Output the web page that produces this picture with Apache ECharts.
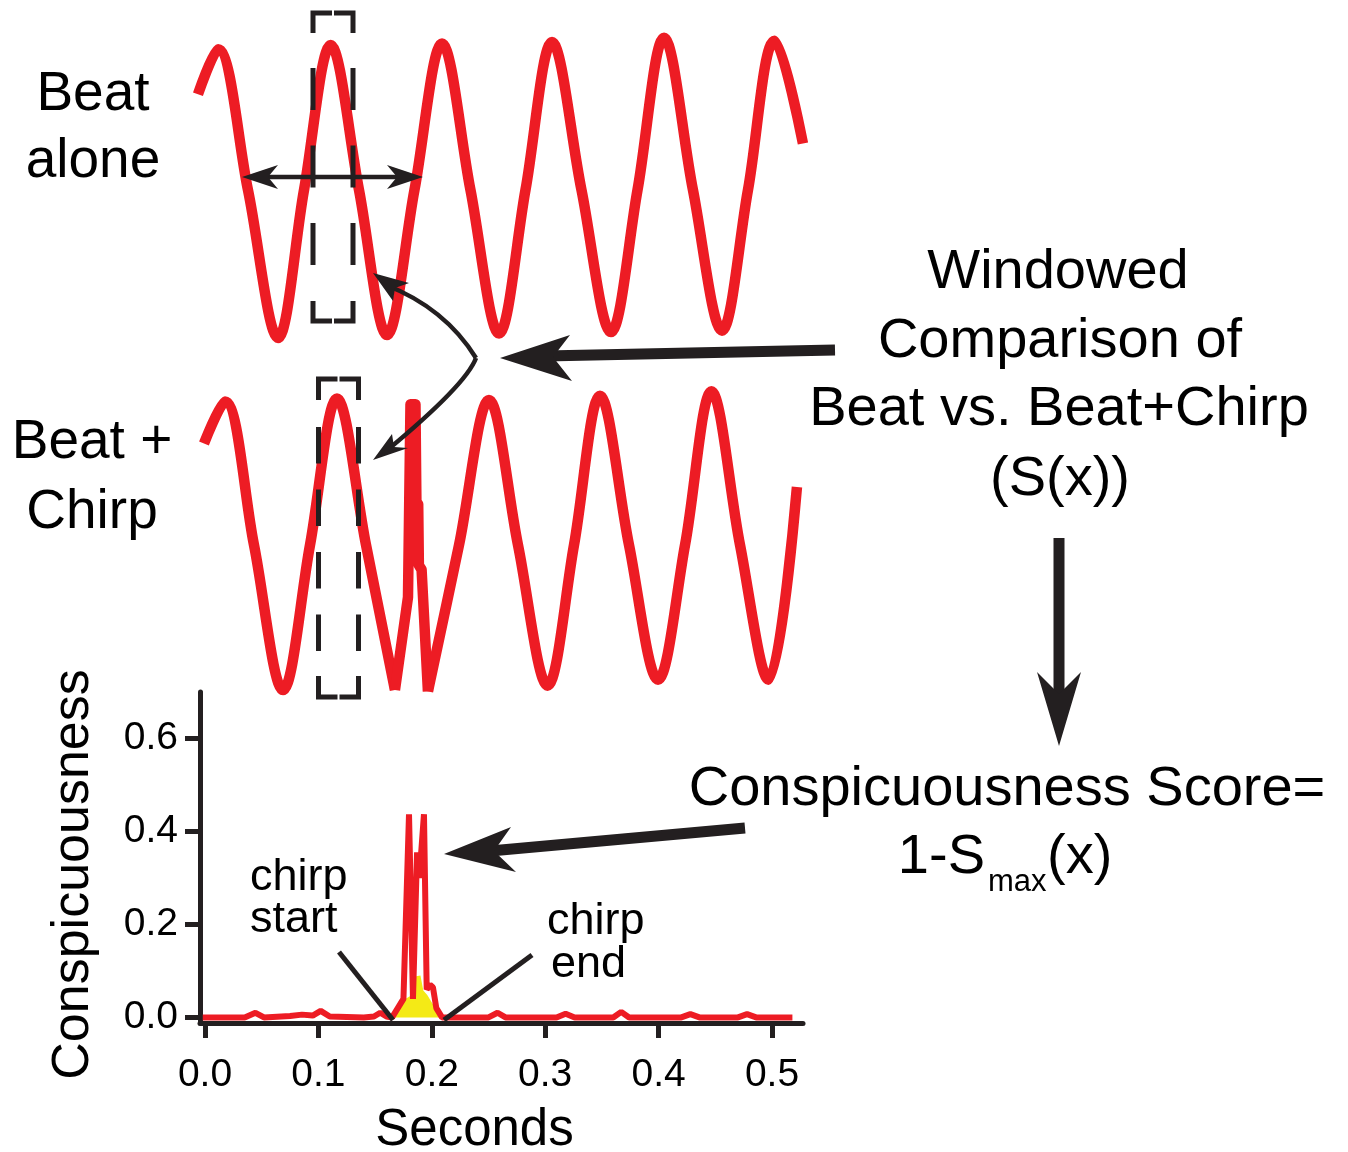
<!DOCTYPE html>
<html>
<head>
<meta charset="utf-8">
<script src="https://cdn.jsdelivr.net/npm/echarts@6/dist/echarts.min.js"></script>
<style>
  html, body { margin: 0; padding: 0; background: #ffffff; }
  #chart { width: 1348px; height: 1152px; }
</style>
</head>
<body>
<div id="chart"></div>
<script>
// ---- Data: time in seconds, waveform amplitude normalised to the beat envelope ----
const beatAlone = [
  [-0.0062, 0.66], [0.0115, 0.97], [0.0379, 0], [0.0644, -1.02], [0.0873, 0],
  [0.1108, 1.00], [0.1358, 0], [0.1605, -1.00], [0.1847, 0], [0.2090, 1.01],
  [0.2341, 0], [0.2593, -0.99], [0.2826, 0], [0.3060, 1.02], [0.3320, 0],
  [0.3580, -0.98], [0.3814, 0], [0.4048, 1.05], [0.4303, 0], [0.4559, -0.97],
  [0.4788, 0], [0.5023, 1.03], [0.5273, 0.32]
];
const beatChirpBefore = [
  [-0.0009, 0.70], [0.0176, 0.99], [0.0432, 0], [0.0688, -1.00], [0.0926, 0],
  [0.1164, 1.01], [0.1420, 0], [0.1675, -1.00]
];
const beatChirpDuring = [
  [0.1675, -1.00], [0.1790, -0.36], [0.1812, 0.97], [0.1856, 0.97],
  [0.1864, 0.30], [0.1880, 0.28], [0.1886, -0.14], [0.1910, -0.17], [0.1966, -1.01]
];
const beatChirpAfter = [
  [0.1966, -1.01], [0.2240, 0], [0.2504, 1.00], [0.2760, 0], [0.3021, -0.97],
  [0.3254, 0], [0.3483, 1.03], [0.3739, 0], [0.3995, -0.93], [0.4233, 0],
  [0.4466, 1.06], [0.4718, 0], [0.4969, -0.93], [0.5220, 0.40]
];
// Conspicuousness score (1 - Smax) over time
const conspicuousness = [
  [-0.002, 0], [0.035, 0], [0.0445, 0.010], [0.052, 0], [0.075, 0.003],
  [0.0855, 0.006], [0.095, 0.004], [0.102, 0.014], [0.110, 0.002], [0.140, 0],
  [0.149, 0.002], [0.1545, 0.010], [0.160, 0.002], [0.165, 0], [0.170, 0.02],
  [0.175, 0.04], [0.1799, 0.437], [0.1834, 0.04], [0.1870, 0.355], [0.1890, 0.30],
  [0.1931, 0.437], [0.1955, 0.06], [0.1985, 0.07], [0.2010, 0.065], [0.2040, 0.02],
  [0.209, 0], [0.250, 0], [0.258, 0.010], [0.265, 0], [0.310, 0], [0.318, 0.008],
  [0.326, 0], [0.360, 0], [0.367, 0.012], [0.374, 0], [0.420, 0], [0.428, 0.007],
  [0.436, 0], [0.470, 0], [0.478, 0.007], [0.486, 0], [0.518, 0]
];
// Lower envelope of the score during the chirp (filled)
const innerScore = [
  [0.164, 0], [0.171, 0.022], [0.177, 0.040], [0.1825, 0.048], [0.1850, 0.088],
  [0.1900, 0.090], [0.1925, 0.058], [0.196, 0.048], [0.200, 0.032], [0.205, 0.014],
  [0.210, 0]
];
const secondsTicks = [0, 0.1, 0.2, 0.3, 0.4, 0.5];
const scoreTicks = [0, 0.2, 0.4, 0.6];

// ---- Styling ----
const RED = '#ed1c24';
const INK = '#231f20';
const YELLOW = '#f4ea16';
const FONT = '"Liberation Sans", Arial, Helvetica, sans-serif';

const chart = echarts.init(document.getElementById('chart'), null, { renderer: 'canvas' });

function label(text, x, y, size, align) {
  return {
    type: 'text', silent: true, z: 20,
    style: {
      text: text, x: x, y: y, fill: '#000',
      font: size + 'px ' + FONT,
      textAlign: align || 'center', textVerticalAlign: 'middle'
    }
  };
}
function seg(points, width, dash) {
  return {
    type: 'polyline', silent: true, z: 15,
    shape: { points: points },
    style: { stroke: INK, lineWidth: width, fill: null, lineDash: dash || null, lineCap: 'butt' }
  };
}
function head(points) {
  return {
    type: 'polygon', silent: true, z: 16,
    shape: { points: points },
    style: { fill: INK, stroke: null }
  };
}
function windowBox(l, r, t, b, bracket, dashStart, dashEnd, dash) {
  const m = (l + r) / 2;
  return [
    seg([[l, t + bracket], [l, t], [m - 1, t]], 5),
    seg([[m + 1, t], [r, t], [r, t + bracket]], 5),
    seg([[l, b - bracket], [l, b], [m - 1, b]], 5),
    seg([[m + 1, b], [r, b], [r, b - bracket]], 5),
    seg([[l, dashStart], [l, dashEnd]], 5, dash),
    seg([[r, dashStart], [r, dashEnd]], 5, dash)
  ];
}

const graphics = [
  // side labels
  label('Beat', 93, 95, 55), label('alone', 93, 162, 55),
  label('Beat +', 92, 443, 55), label('Chirp', 92, 513, 55),
  // right-hand explanation
  label('Windowed', 1058, 273, 56), label('Comparison of', 1060, 342, 56),
  label('Beat vs. Beat+Chirp', 1059, 410, 56), label('(S(x))', 1060, 480, 56),
  label('Conspicuousness Score=', 1007, 790, 56),
  label('1-S', 985, 858, 56, 'right'), label('max', 988, 882, 31, 'left'),
  label('(x)', 1047, 858, 56, 'left'),
  // chirp annotations
  label('chirp', 250, 878, 45, 'left'), label('start', 250, 920, 45, 'left'),
  label('chirp', 547, 922, 45, 'left'), label('end', 551, 965, 45, 'left'),
  seg([[339, 952], [393, 1020]], 5),
  seg([[532, 955], [444, 1020]], 5),
  // period double arrow
  seg([[262, 177], [403, 177]], 4.5),
  head([[242, 177], [278, 165], [268, 177], [278, 189]]),
  head([[423, 177], [387, 165], [397, 177], [387, 189]]),
  // curved double arrow between the two traces
  {
    type: 'bezierCurve', silent: true, z: 15,
    shape: { x1: 386, y1: 285, cpx1: 445, cpy1: 308, x2: 476, y2: 358 },
    style: { stroke: INK, lineWidth: 4.5, fill: null }
  },
  {
    type: 'bezierCurve', silent: true, z: 15,
    shape: { x1: 476, y1: 358, cpx1: 466, cpy1: 385, x2: 385, y2: 452 },
    style: { stroke: INK, lineWidth: 4.5, fill: null }
  },
  head([[373, 273], [393, 301], [395, 288], [409, 283]]),
  head([[373, 460], [392, 434], [394, 447], [408, 448]]),
  // big arrows
  seg([[835, 350], [545, 356]], 11),
  head([[500, 358], [570, 335], [553, 357], [572, 381]]),
  seg([[1059, 538], [1059, 700]], 11),
  head([[1059, 746], [1037, 672], [1059, 694], [1081, 672]]),
  seg([[745, 828], [490, 851]], 11),
  head([[444, 854], [511, 827], [494, 851], [516, 872]])
]
  .concat(windowBox(313, 353, 13, 321, 20, 68, 265, [42, 35.5]))
  .concat(windowBox(318.5, 358.5, 379, 697, 21, 427, 652, [36.5, 26]));

const waveLine = { color: RED, width: 10.5, join: 'round' };

const option = {
  animation: false,
  backgroundColor: '#ffffff',
  grid: [
    { left: 190, right: 535, top: 1.5, height: 377, containLabel: false, outerBoundsMode: 'none' },
    { left: 190, right: 535, top: 356.5, height: 377, containLabel: false, outerBoundsMode: 'none' },
    { left: 200, right: 545, top: 692, height: 331, containLabel: false, outerBoundsMode: 'none' }
  ],
  xAxis: [
    { gridIndex: 0, type: 'value', min: -0.013228, max: 0.536155, show: false },
    { gridIndex: 1, type: 'value', min: -0.013228, max: 0.536155, show: false },
    {
      gridIndex: 2, type: 'value', min: -0.004409, max: 0.527337,
      axisLine: { show: true, onZero: false, lineStyle: { color: INK, width: 5 } },
      axisTick: { show: true, customValues: secondsTicks, length: 15, lineStyle: { color: INK, width: 5 } },
      axisLabel: {
        show: true, customValues: secondsTicks, margin: 33,
        formatter: v => v.toFixed(1), fontSize: 39, color: '#000', fontFamily: FONT
      },
      splitLine: { show: false },
      name: 'Seconds', nameLocation: 'middle', nameGap: 82,
      nameTextStyle: { fontSize: 51, color: '#000', fontFamily: FONT, padding: [0, 54, 0, 0] }
    }
  ],
  yAxis: [
    { gridIndex: 0, type: 'value', min: -1.3, max: 1.3, show: false },
    { gridIndex: 1, type: 'value', min: -1.3, max: 1.3, show: false },
    {
      gridIndex: 2, type: 'value', min: -0.012, max: 0.7,
      axisLine: { show: true, onZero: false, lineStyle: { color: INK, width: 5 } },
      axisTick: { show: true, customValues: scoreTicks, length: 15, lineStyle: { color: INK, width: 5 } },
      axisLabel: {
        show: true, customValues: scoreTicks, margin: 22,
        formatter: v => v.toFixed(1), fontSize: 39, color: '#000', fontFamily: FONT
      },
      splitLine: { show: false },
      name: 'Conspicuousness', nameLocation: 'middle', nameGap: 100, nameRotate: 90,
      nameTextStyle: { fontSize: 52, color: '#000', fontFamily: FONT, padding: [0, 34, 0, 0] }
    }
  ],
  series: [
    {
      name: 'Beat alone', type: 'line', xAxisIndex: 0, yAxisIndex: 0,
      data: beatAlone, smooth: 0.35, showSymbol: false, silent: true,
      lineStyle: waveLine
    },
    {
      name: 'Beat + Chirp', type: 'line', xAxisIndex: 1, yAxisIndex: 1,
      data: beatChirpBefore, smooth: 0.35, showSymbol: false, silent: true,
      lineStyle: waveLine
    },
    {
      name: 'Beat + Chirp (chirp)', type: 'line', xAxisIndex: 1, yAxisIndex: 1,
      data: beatChirpDuring, smooth: false, showSymbol: false, silent: true,
      lineStyle: waveLine
    },
    {
      name: 'Beat + Chirp (after)', type: 'line', xAxisIndex: 1, yAxisIndex: 1,
      data: beatChirpAfter, smooth: 0.35, showSymbol: false, silent: true,
      lineStyle: waveLine
    },
    {
      name: 'Inner score', type: 'line', xAxisIndex: 2, yAxisIndex: 2,
      data: innerScore, showSymbol: false, silent: true, z: 2,
      lineStyle: { width: 0, color: YELLOW },
      areaStyle: { color: YELLOW, opacity: 1 }
    },
    {
      name: 'Conspicuousness', type: 'line', xAxisIndex: 2, yAxisIndex: 2,
      data: conspicuousness, showSymbol: false, silent: true, z: 3,
      lineStyle: { color: RED, width: 6 }
    }
  ],
  graphic: graphics
};

chart.setOption(option);
</script>
</body>
</html>
